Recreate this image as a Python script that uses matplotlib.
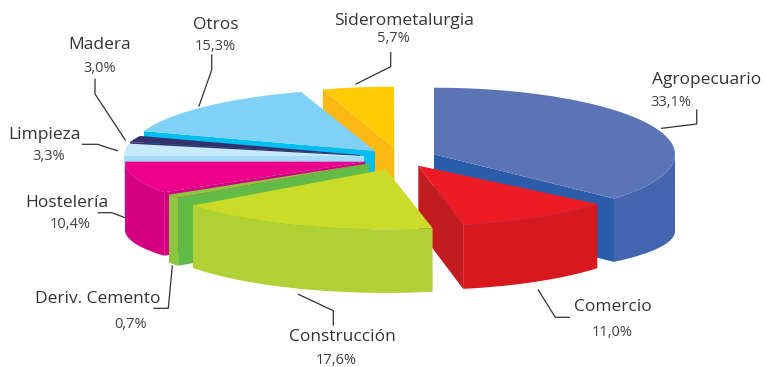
#!/usr/bin/env python3
"""Exploded 3D-look pie, drawn by hand because matplotlib pies have no depth."""
import numpy as np
import matplotlib

matplotlib.use("Agg")
import matplotlib.pyplot as plt

CATEGORIES = ["Agropecuario", "Comercio", "Construcción", "Deriv. Cemento", "Hostelería",
              "Limpieza", "Madera", "Otros", "Siderometalurgia"]
VALUES = [33.1, 11.0, 17.6, 0.7, 10.4, 3.3, 3.0, 15.3, 5.7]

# name: apex x, apex y, rx, ry, wall depth at the side, ry of the bottom rim,
#       start angle (clockwise from 12 o'clock), sweep stretch
GEOM = {
    "Agropecuario": (434, 154.3, 241, 66.6, 77, 46, 0, 1.105),
    "Comercio": (418.3, 165.7, 231, 60.5, 65, 59.3, 129.2, 1.0),
    "Construcción": (386, 169.3, 242, 60, 61, 62.6, 168.9, 1.01),
    "Deriv. Cemento": (369.3, 163.3, 240, 57, 68, 57, 232.8, 1.5),
    "Hostelería": (365, 161.7, 240, 55.8, 68.3, 47, 236.8, 0.887),
    "Limpieza": (364, 156, 240, 60, 60, 60, 270, 1.0),
    "Madera": (360, 155, 238, 50, 60, 60, 285, 0.69),
    "Otros": (375, 151, 244, 61.9, 60, 60, 288.7, 0.975),
    "Siderometalurgia": (394.3, 148.3, 240, 61.6, 60, 60, 342.7, 0.84),
}
# top, outer wall, cut face
COLORS = {
    "Agropecuario": ("#5b74b6", "#4466b0", "#2a5caa"),
    "Comercio": ("#ed1c24", "#d7181f", "#c21c21"),
    "Construcción": ("#cbdb2a", "#afd136", "#afd136"),
    "Deriv. Cemento": ("#8dc63f", "#8dc63f", "#62bb46"),
    "Hostelería": ("#ec008c", "#d5007f", "#d5007f"),
    "Limpieza": ("#c7eafb", "#a5dcf7", "#a5dcf7"),
    "Madera": ("#36306c", "#36306c", "#36306c"),
    "Otros": ("#7fd1f7", "#00bdf2", "#00bdf2"),
    "Siderometalurgia": ("#ffcb05", "#fdb913", "#fdb913"),
}
# back to front, the pieces overlap each other
DRAW_ORDER = ["Siderometalurgia", "Otros", "Madera", "Limpieza", "Hostelería",
              "Deriv. Cemento", "Agropecuario", "Comercio", "Construcción"]
# which straight cut is visible: the start edge or the end edge of the slice
CUT_AT_END = {"Agropecuario", "Comercio"}
NO_CUT = {"Construcción"}

# label x, y (name centre), percent x, y
LABEL_POS = {
    "Agropecuario": (707, 80, 671, 103),
    "Comercio": (613, 307, 612, 332),
    "Construcción": (342, 337, 336, 361),
    "Deriv. Cemento": (98, 299, 131, 324),
    "Hostelería": (67, 203, 70, 224),
    "Limpieza": (44, 135, 49, 156),
    "Madera": (100, 45, 100, 69),
    "Otros": (216, 25, 215, 47),
    "Siderometalurgia": (404, 21, 393, 39),
}
LEADERS = {
    "Agropecuario": [(696.7, 110), (696.7, 124), (661.7, 128.3)],
    "Comercio": [(569.3, 317.3), (555.3, 317.3), (538.3, 290)],
    "Construcción": [(333.3, 325), (333.3, 310.7), (298.3, 294.3)],
    "Deriv. Cemento": [(154, 308.3), (168.3, 308.3), (172.3, 266)],
    "Hostelería": [(98.3, 212.7), (111.7, 212.7), (125, 217.7)],
    "Limpieza": [(82.3, 144.3), (97.3, 144.3), (117.3, 150.7)],
    "Madera": [(95, 79.3), (95, 94), (125.3, 140)],
    "Otros": [(211.7, 55), (211.7, 70), (199, 106)],
    "Siderometalurgia": [(390.7, 52.7), (390.7, 66.7), (356, 84)],
}

plt.rcParams["font.family"] = ["Open Sans", "DejaVu Sans"]


def rim(g, a0, a1, bottom=False):
    cx, cy, rx, ry, depth, ry_b, _, _ = g
    t = np.radians(np.linspace(a0, a1, 60))
    if bottom:
        return np.c_[cx + rx * np.sin(t), cy + depth - ry_b * np.cos(t)]
    return np.c_[cx + rx * np.sin(t), cy - ry * np.cos(t)]


def draw_slice(ax, name, value):
    g = GEOM[name]
    top, wall, cut = COLORS[name]
    cx, cy, rx, ry, depth, ry_b, start, stretch = g
    end = start + value * 3.6 * stretch
    edge = end if name in CUT_AT_END else start

    # cut face first, then outer wall, top goes last
    if name not in NO_CUT:
        p_top = rim(g, edge, edge)[0]
        p_bot = rim(g, edge, edge, bottom=True)[0]
        ax.fill([cx, p_top[0], p_bot[0], cx], [cy, p_top[1], p_bot[1], cy + p_bot[1] - p_top[1]],
                color=cut, lw=0)

    a0, a1 = max(start, 90), min(end, 270)
    if a1 > a0:
        pts = np.r_[rim(g, a0, a1), rim(g, a0, a1, bottom=True)[::-1]]
        ax.fill(pts[:, 0], pts[:, 1], color=wall, lw=0)

    pts = np.r_[[(cx, cy)], rim(g, start, end)]
    ax.fill(pts[:, 0], pts[:, 1], color=top, lw=0)


fig = plt.figure(figsize=(7.64, 3.67), dpi=100)
ax = fig.add_axes([0, 0, 1, 1])
ax.set_xlim(0, 764)
ax.set_ylim(367, 0)
ax.axis("off")

by_name = dict(zip(CATEGORIES, VALUES))
for name in DRAW_ORDER:
    draw_slice(ax, name, by_name[name])

for name, value in by_name.items():
    lx, ly, px, py = LABEL_POS[name]
    ax.text(lx, ly, name, ha="center", va="center", fontsize=12.5, color="#333333")
    ax.text(px, py, f"{value:.1f}".replace(".", ",") + "%", ha="center", va="center",
            fontsize=10.5, color="#404040")
    xs, ys = zip(*LEADERS[name])
    ax.plot(xs, ys, color="#333333", lw=0.9, solid_joinstyle="miter")

fig.savefig("out.png", dpi=100)
